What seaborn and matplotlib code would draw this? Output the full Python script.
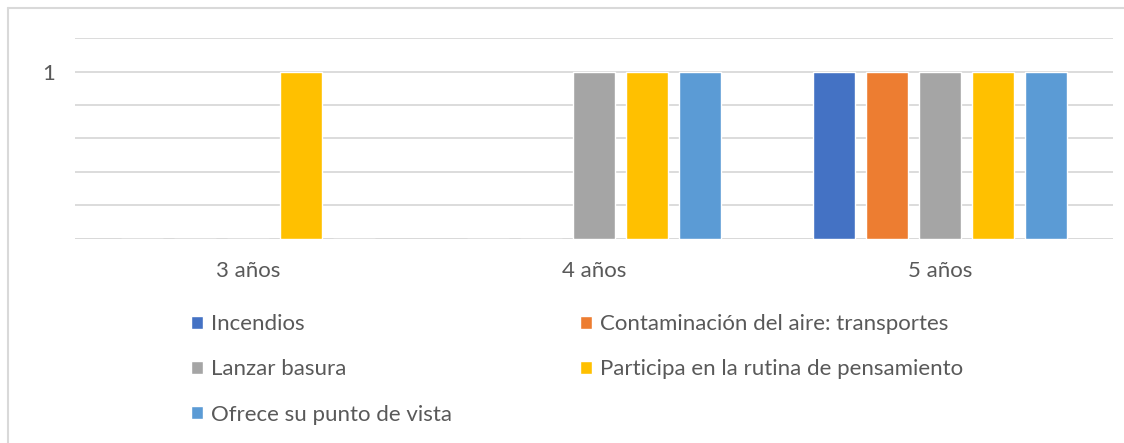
import pandas as pd
import numpy as np
import seaborn as sns
import matplotlib.pyplot as plt
from matplotlib.lines import Line2D

#Data
categorias = ["3 años", "4 años", "5 años"]
series = ["Incendios", "Contaminación del aire: transportes", "Lanzar basura",
          "Participa en la rutina de pensamiento", "Ofrece su punto de vista"]
incendios = [0, 0, 1]
contaminacion = [0, 0, 1]
lanzar_basura = [0, 1, 1]
participa = [1, 1, 1]
ofrece = [0, 1, 1]
colores = ["#4472C4", "#ED7D31", "#A5A5A5", "#FFC000", "#5B9BD5"]

#Long format for seaborn
valores = [incendios, contaminacion, lanzar_basura, participa, ofrece]
rows = []
for s, vals in zip(series, valores):
    for c, v in zip(categorias, vals):
        rows.append({"edad": c, "serie": s, "valor": v})
df = pd.DataFrame(rows)

sns.set_style("white")
plt.rcParams['font.family'] = ['Lato', 'DejaVu Sans']
txt = "#595959"
grid = "#D9D9D9"
fs = 16

fig = plt.figure(figsize=(11.24, 4.43), dpi=100)
ax = fig.add_axes([75/1124, 1-239/443, (1113-75)/1124, (239-38)/443])

sns.barplot(data=df, x="edad", y="valor", hue="serie", order=categorias,
            hue_order=series, palette=colores, width=0.766, gap=0.2,
            saturation=1, ax=ax, legend=True)

ax.set_ylim(0, 1.2)
ax.set_xlim(-0.5, 2.5)
ax.set_yticks(np.arange(0, 1.21, 0.2))
ax.set_yticklabels(["", "", "", "", "", "1", ""])
ax.yaxis.grid(True, color=grid, lw=1.3)
ax.set_axisbelow(True)
for sp in ax.spines.values():
    sp.set_visible(False)
ax.axhline(0, color=grid, lw=1.3, zorder=0)
ax.tick_params(axis="both", length=0, colors=txt, labelsize=fs)
ax.tick_params(axis="y", pad=14.5)
ax.tick_params(axis="x", pad=15.5)
ax.set_xlabel("")
ax.set_ylabel("")

#Legend, row-wise order in two columns
h, l = ax.get_legend_handles_labels()
ax.get_legend().remove()
idx = [0, 2, 4, 1, 3]
leg = fig.legend([h[i] for i in idx], [l[i] for i in idx], ncol=2,
                 loc="upper left", bbox_to_anchor=(191/1124, 1-314/443),
                 frameon=False, fontsize=fs, handlelength=0.54, handleheight=0.54,
                 handletextpad=0.36, labelspacing=1.14, columnspacing=5.78,
                 borderaxespad=0, borderpad=0)
for t in leg.get_texts():
    t.set_color(txt)

#Chart border (top and left visible)
fig.add_artist(Line2D([7.5/1124, 7.5/1124], [0, 1-7.5/443], color=grid, lw=1.5))
fig.add_artist(Line2D([7.5/1124, 1], [1-7.5/443, 1-7.5/443], color=grid, lw=1.5))

fig.savefig("out.png", dpi=100)
